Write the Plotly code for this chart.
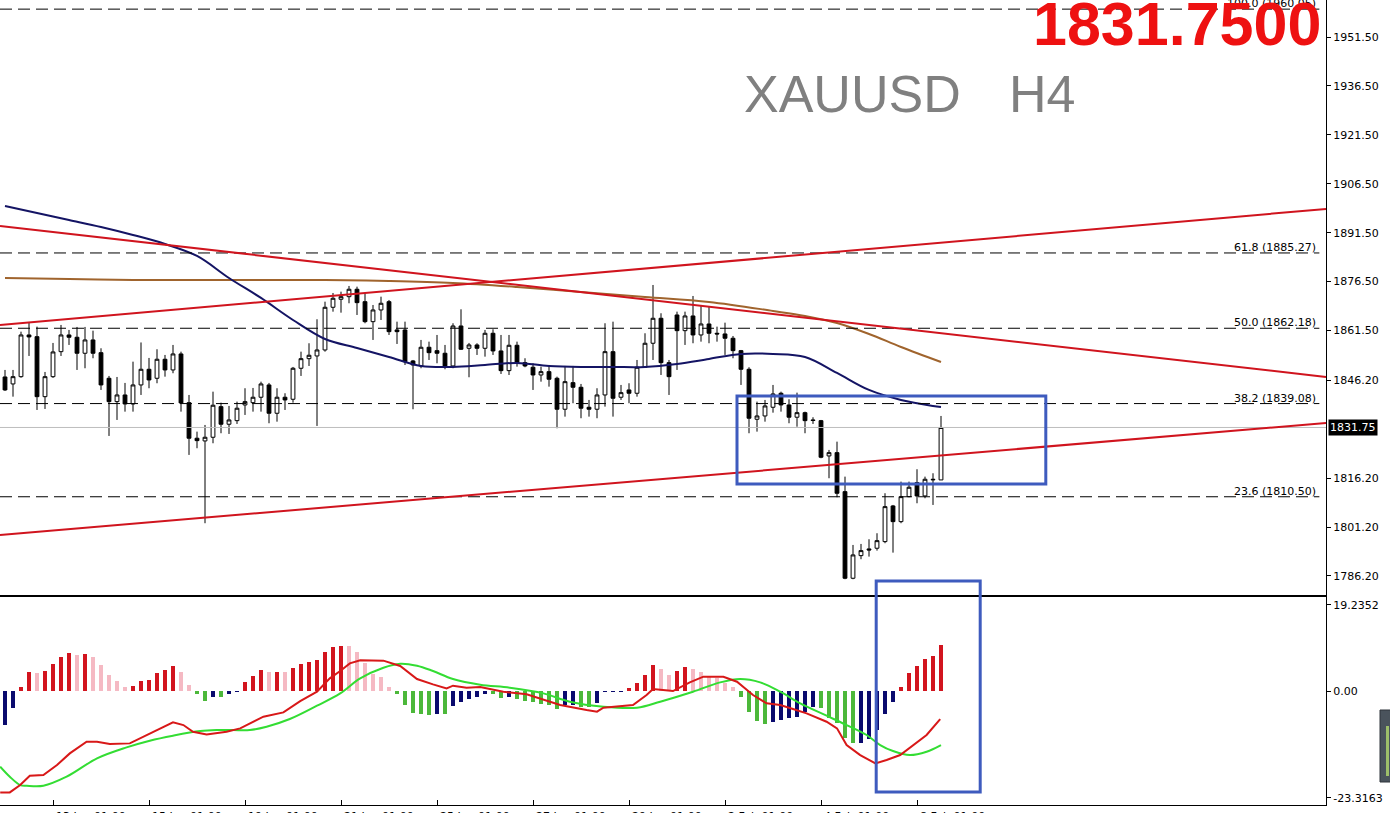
import plotly.graph_objects as go

# ---------------- DATA ----------------
bar_index = list(range(118))
opens = [1847.24,1845.10,1847.33,1860.12,1859.60,1841.20,1847.33,1855.00,1860.12,1859.42,
         1854.51,1858.59,1854.69,1846.84,1839.67,1841.72,1838.96,1844.79,1849.60,1846.84,
         1852.67,1849.39,1854.30,1839.36,1828.45,1827.62,1828.75,1838.14,1832.74,1833.84,
         1838.66,1839.36,1841.02,1844.79,1836.11,1841.02,1840.40,1849.91,1852.85,1853.68,
         1855.52,1868.61,1871.07,1871.86,1874.14,1870.33,1864.20,1867.79,1870.33,1861.66,
         1861.66,1852.15,1850.62,1856.35,1855.31,1854.51,1850.62,1862.88,1856.04,1857.06,
         1856.04,1860.64,1855.22,1849.18,1856.96,1851.63,1850.22,1847.85,1848.87,1846.84,
         1837.34,1845.50,1844.08,1837.95,1837.34,1841.72,1855.00,1841.02,1843.26,1842.24,
         1850.22,1857.58,1865.24,1851.63,1866.25,1861.44,1865.95,1860.12,1863.49,1860.64,
         1860.43,1859.11,1855.31,1849.60,1834.27,1835.28,1837.95,1842.24,1838.66,1834.89,
         1836.29,1834.06,1833.84,1823.02,1824.03,1812.07,1785.51,1792.44,1794.50,1794.71,
         1796.74,1807.68,1802.87,1810.54,1814.83,1810.75,1815.87,1815.66]
highs = [1849.39,1849.39,1861.13,1863.80,1862.67,1848.78,1857.67,1863.19,1861.66,1862.58,
         1862.58,1861.44,1856.04,1847.55,1847.24,1845.41,1851.93,1857.82,1853.07,1855.74,
         1853.99,1857.06,1855.00,1841.72,1830.47,1832.52,1842.73,1839.36,1838.35,1839.67,
         1843.78,1843.87,1845.80,1845.41,1843.78,1842.24,1850.31,1855.00,1857.58,1864.94,
         1870.33,1873.00,1873.40,1875.15,1874.93,1873.00,1869.32,1871.86,1870.85,1864.20,
         1864.20,1852.45,1858.59,1858.07,1860.12,1857.06,1863.71,1867.99,1857.67,1857.58,
         1861.66,1861.87,1860.12,1860.12,1858.07,1852.98,1851.44,1850.40,1850.92,1847.33,
         1850.62,1850.62,1845.10,1840.19,1843.78,1863.71,1864.20,1844.79,1845.31,1852.45,
         1860.64,1875.45,1866.78,1852.45,1867.27,1867.27,1872.08,1869.32,1868.80,1862.67,
         1863.89,1859.81,1855.52,1850.22,1839.67,1840.19,1844.79,1842.73,1840.40,1842.43,
         1836.60,1834.88,1834.06,1824.86,1827.40,1816.67,1795.72,1796.03,1797.47,1799.31,
         1811.58,1807.99,1815.14,1815.14,1818.94,1816.67,1817.71,1835.28]
lows = [1842.95,1841.20,1847.00,1853.68,1837.12,1837.43,1846.94,1853.68,1857.06,1849.39,
        1849.91,1852.98,1843.26,1829.15,1834.06,1836.60,1836.60,1841.72,1843.78,1845.31,
        1847.33,1848.38,1836.60,1823.33,1825.38,1802.38,1826.91,1829.98,1829.76,1832.83,
        1835.59,1836.60,1836.60,1833.04,1833.53,1837.12,1839.36,1847.55,1850.61,1832.22,
        1855.00,1867.26,1866.96,1869.84,1866.25,1863.71,1858.59,1864.72,1860.12,1857.36,
        1850.92,1837.34,1849.91,1852.45,1851.44,1849.60,1849.91,1855.52,1847.15,1853.99,
        1853.47,1853.99,1848.16,1847.85,1850.40,1850.22,1843.26,1845.80,1844.27,1831.51,
        1835.07,1839.18,1834.58,1835.07,1834.58,1838.14,1835.07,1840.19,1839.18,1841.20,
        1850.00,1852.45,1847.85,1841.72,1849.39,1857.06,1857.58,1858.07,1857.58,1858.07,
        1853.99,1852.98,1844.79,1829.98,1830.47,1833.53,1836.29,1836.60,1833.04,1831.99,
        1829.98,1832.83,1822.31,1816.18,1810.35,1785.21,1785.21,1791.34,1792.14,1793.98,
        1796.25,1793.36,1802.38,1810.35,1808.51,1810.04,1807.99,1815.66]
closes = [1843.26,1847.33,1860.12,1859.51,1841.20,1847.33,1854.91,1860.12,1859.42,1854.51,
          1858.59,1854.51,1844.79,1839.67,1841.72,1838.96,1844.79,1849.60,1846.32,1852.67,
          1849.39,1854.30,1839.27,1828.45,1827.71,1828.75,1838.57,1832.74,1834.06,1837.65,
          1839.67,1841.02,1845.10,1836.11,1841.02,1840.19,1849.91,1852.85,1853.90,1855.52,
          1868.61,1871.37,1871.86,1874.14,1870.03,1864.20,1867.79,1869.84,1861.13,1861.13,
          1851.93,1850.92,1856.35,1854.69,1854.51,1850.62,1862.88,1855.74,1857.06,1856.04,
          1860.64,1855.22,1849.18,1856.96,1851.63,1850.62,1847.85,1848.87,1846.54,1837.34,
          1845.80,1844.08,1837.65,1837.34,1841.72,1855.00,1840.71,1842.43,1842.24,1850.22,
          1857.58,1865.24,1851.63,1847.33,1861.44,1865.95,1860.12,1863.49,1860.64,1860.43,
          1859.11,1855.31,1849.60,1834.58,1835.28,1838.35,1842.03,1838.66,1834.89,1836.29,
          1833.84,1833.90,1822.62,1824.03,1811.57,1785.51,1792.66,1793.98,1794.19,1797.04,
          1807.47,1802.87,1810.54,1813.42,1810.75,1815.87,1815.72,1831.75]

ma_fast_index = [0,4,8,12,16,20,24,28,32,36,40,44,48,52,56,60,64,68,72,76,80,84,88,92,96,100,104,108,112,116,117]
ma_fast = [1899.68,1897.53,1895.39,1893.24,1890.79,1888.03,1884.35,1877.60,1871.47,1864.72,
           1858.89,1856.14,1853.37,1850.62,1850.31,1850.92,1851.54,1850.62,1850.31,1850.31,
           1850.31,1851.23,1852.76,1854.30,1854.30,1853.37,1848.47,1843.26,1840.19,1838.35,1838.04]
ma_slow_index = [0,8,16,24,32,40,48,56,64,72,80,88,96,100,104,108,112,117]
ma_slow = [1877.60,1877.30,1876.99,1876.99,1876.99,1876.99,1876.68,1876.07,1874.84,1873.31,
           1871.77,1870.24,1867.48,1865.95,1863.80,1860.43,1856.44,1851.84]

macd_hist = [-6.96,-3.55,0.75,3.82,3.70,4.09,5.53,6.96,7.71,7.37,
             7.57,7.03,5.32,3.27,2.05,0.75,1.02,2.05,2.25,3.75,
             4.30,5.18,3.82,1.23,-0.61,-2.05,-1.16,-1.30,-0.68,-0.10,
             1.77,3.14,4.30,3.82,3.90,3.80,4.77,5.53,6.00,6.34,
             7.91,9.07,9.28,9.20,8.05,5.66,3.41,2.93,0.89,-0.68,
             -2.87,-4.57,-4.77,-4.82,-4.75,-4.80,-3.00,-2.32,-1.70,-1.20,
             -0.68,-0.70,-1.50,-1.16,-1.64,-2.05,-2.32,-2.73,-2.87,-3.68,
             -2.87,-2.85,-3.20,-3.25,-2.52,-0.15,-0.10,-0.05,0.55,1.57,
             3.27,5.32,4.50,3.27,4.09,4.98,4.50,3.82,2.93,2.59,
             1.57,0.89,-1.16,-4.37,-6.14,-6.82,-6.28,-5.93,-5.59,-5.25,
             -4.37,-3.20,-3.55,-5.59,-6.62,-9.69,-10.71,-10.60,-9.82,-7.98,
             -4.77,-2.32,0.89,3.62,5.18,6.55,7.23,9.41]

macd_main_index = [-0.6,0.6,1.9,3.1,4.8,6.5,8.1,10.2,11.5,13.1,15.6,18.1,20.2,21.0,22.3,23.5,25.2,27.7,
                   29.4,31.0,32.3,34.8,36.9,39.0,40.6,41.9,43.1,44.4,47.3,49.4,51.5,53.5,55.2,56.0,57.7,
                   59.4,62.3,65.2,69.4,72.7,74.0,74.8,76.1,78.5,80.2,81.0,83.5,85.6,87.3,89.8,91.5,93.5,
                   95.2,96.9,98.5,100.2,102.7,104.0,105.2,106.9,108.8,110.2,111.9,113.5,115.2,116.9]
macd_main = [-20.74,-20.74,-19.24,-17.33,-17.19,-15.14,-12.76,-10.37,-10.37,-10.85,-10.71,-8.66,-6.96,-6.41,
             -6.96,-8.32,-8.87,-8.32,-7.64,-6.41,-5.25,-4.37,-2.05,-0.14,2.59,4.09,5.66,6.28,6.21,5.12,
             2.46,1.36,0.55,1.09,0.68,0.80,-0.14,-0.68,-2.87,-3.89,-4.23,-3.41,-3.21,-2.87,-0.82,0.41,
             0.0,1.77,2.93,2.93,1.91,-0.82,-2.52,-2.87,-3.68,-4.57,-6.28,-7.64,-11.05,-13.10,-14.80,
             -14.12,-13.10,-11.05,-9.00,-5.73]
macd_signal_index = [-0.6,0.6,1.9,2.7,4.8,7.7,11.5,15.2,18.1,21.0,24.4,26.5,28.5,30.6,32.7,35.6,39.0,41.9,
                     44.4,47.3,49.4,51.5,53.5,56.0,59.4,63.1,67.3,70.6,74.8,79.0,81.9,86.0,89.4,91.9,94.4,
                     96.9,99.4,102.7,105.2,107.7,109.4,111.0,113.1,115.2,117.0]
macd_signal = [-15.48,-17.53,-19.24,-19.37,-19.37,-17.53,-13.78,-11.53,-10.16,-9.14,-8.19,-7.98,-7.98,-7.98,
               -7.30,-5.73,-3.00,-0.48,2.59,4.77,5.59,5.18,4.09,2.46,1.30,0.68,-0.48,-2.18,-3.21,-3.41,
               -2.18,-0.14,1.77,2.46,1.77,-0.14,-2.52,-5.05,-6.96,-9.00,-11.05,-12.28,-13.10,-12.41,-11.05]

fib_ratios = ["100.0", "61.8", "50.0", "38.2", "23.6"]
fib_prices = [1960.05, 1885.27, 1862.18, 1839.08, 1810.50]
last_price = 1831.75

# trend lines: price at left edge and right edge of chart
trend_left = [1863.19, 1893.55, 1798.79]
trend_right = [1898.76, 1847.24, 1833.14]

# highlight boxes (bar index / price)
box_bars = [91.5, 130.1]
box_prices = [1814.43, 1841.42]
box2_bars = [108.9, 121.9]

date_tick_index = [-6, 6, 18, 30, 42, 54, 66, 78, 90, 102, 114]
date_tick_text = ["11 Jan 01:00", "13 Jan 01:00", "15 Jan 01:00", "19 Jan 01:00", "21 Jan 01:00",
                  "25 Jan 01:00", "27 Jan 01:00", "29 Jan 01:00", "2 Feb 01:00", "4 Feb 01:00", "8 Feb 01:00"]
price_ticks = [1951.50, 1936.50, 1921.50, 1906.50, 1891.50, 1876.50, 1861.50, 1846.20, 1816.20, 1801.20, 1786.20]

# ---------------- STYLE ----------------
W, H = 1390, 813
ML, MR, MT, MB = 0, 64, 0, 8
PW = W - ML - MR
PH = H - MT - MB
main_bottom_px = 595
macd_top_px = 597
X_RANGE = [-0.625, 165.125]
Y_RANGE = [1780.37, 1962.85]
M_RANGE = [-23.3163, 19.2352]
AXFONT = dict(family="DejaVu Sans", size=11, color="#000000")
RED_HIST, PINK_HIST, GREEN_HIST, NAVY_HIST = "#D2141E", "#F5B9C3", "#4CB83A", "#0A0A6E"

hist_colors = []
for k, v in enumerate(macd_hist):
    prev = macd_hist[k - 1] if k > 0 else v - 1
    if v >= 0:
        hist_colors.append(RED_HIST if v >= prev else PINK_HIST)
    else:
        hist_colors.append(NAVY_HIST if v >= prev else GREEN_HIST)

fig = go.Figure()

fig.add_trace(go.Scatter(x=ma_slow_index, y=ma_slow, mode="lines", line=dict(color="#A0642D", width=2, shape="spline"),
                         xaxis="x", yaxis="y", hoverinfo="skip"))
fig.add_trace(go.Scatter(x=ma_fast_index, y=ma_fast, mode="lines", line=dict(color="#141464", width=2, shape="spline"),
                         xaxis="x", yaxis="y", hoverinfo="skip"))
fig.add_trace(go.Candlestick(x=bar_index, open=opens, high=highs, low=lows, close=closes,
                             increasing=dict(line=dict(color="#000000", width=1), fillcolor="#FFFFFF"),
                             decreasing=dict(line=dict(color="#000000", width=1), fillcolor="#000000"),
                             whiskerwidth=0, xaxis="x", yaxis="y", hoverinfo="skip"))

fig.add_trace(go.Bar(x=bar_index, y=macd_hist, marker=dict(color=hist_colors, line=dict(width=0)), width=0.4,
                     xaxis="x2", yaxis="y2", hoverinfo="skip"))
fig.add_trace(go.Scatter(x=macd_signal_index, y=macd_signal, mode="lines",
                         line=dict(color="#33DD33", width=2, shape="spline"), xaxis="x2", yaxis="y2", hoverinfo="skip"))
fig.add_trace(go.Scatter(x=macd_main_index, y=macd_main, mode="lines",
                         line=dict(color="#D81818", width=2), xaxis="x2", yaxis="y2", hoverinfo="skip"))

shapes = []
for p in fib_prices:
    shapes.append(dict(type="line", xref="paper", yref="y", x0=0, x1=0.995, y0=p, y1=p,
                       line=dict(color="#000000", width=1, dash="12px,6px")))
shapes.append(dict(type="line", xref="paper", yref="y", x0=0, x1=1, y0=last_price, y1=last_price,
                   line=dict(color="#BEBEBE", width=1)))
for a, b in zip(trend_left, trend_right):
    shapes.append(dict(type="line", xref="paper", yref="y", x0=0, x1=1, y0=a, y1=b,
                       line=dict(color="#D0141E", width=2)))
shapes.append(dict(type="rect", xref="x", yref="y", x0=box_bars[0], x1=box_bars[1],
                   y0=box_prices[0], y1=box_prices[1], line=dict(color="#3E5BBE", width=3)))
shapes.append(dict(type="rect", xref="x", yref="paper", x0=box2_bars[0], x1=box2_bars[1],
                   y0=1 - 792 / PH, y1=1 - 581 / PH, line=dict(color="#3E5BBE", width=3)))
# small terminal widget at right edge
shapes.append(dict(type="rect", xref="paper", yref="paper", x0=1380 / PW, x1=1394 / PW,
                   y0=1 - 782 / PH, y1=1 - 710 / PH, fillcolor="#4A535C", line=dict(color="#2E343A", width=1)))
shapes.append(dict(type="rect", xref="paper", yref="paper", x0=1386 / PW, x1=1389 / PW,
                   y0=1 - 776 / PH, y1=1 - 726 / PH, fillcolor="#9DBE6A", line=dict(width=0)))

annotations = []
for r, p in zip(fib_ratios, fib_prices):
    annotations.append(dict(xref="paper", yref="y", x=1318 / PW, y=p, xanchor="right", yanchor="bottom",
                            text=f"{r} ({p:.2f})", showarrow=False, font=AXFONT, yshift=-3))
annotations.append(dict(xref="paper", yref="y", x=1328 / PW, y=last_price, xanchor="left", yanchor="middle",
                        text=f"{last_price:.2f}", showarrow=False, bgcolor="#000000",
                        font=dict(family="DejaVu Sans", size=11, color="#FFFFFF"), borderpad=1))
annotations.append(dict(xref="paper", yref="paper", x=1323 / PW, y=1 - 24 / PH, xanchor="right", yanchor="middle",
                        text=f"<b>{last_price:.4f}</b>", showarrow=False,
                        font=dict(family="Liberation Sans", size=61, color="#EE1111")))
annotations.append(dict(xref="paper", yref="paper", x=742 / PW, y=1 - 94 / PH, xanchor="left", yanchor="middle",
                        text="XAUUSD", showarrow=False, font=dict(family="Liberation Sans", size=52, color="#808080")))
annotations.append(dict(xref="paper", yref="paper", x=1007 / PW, y=1 - 94 / PH, xanchor="left", yanchor="middle",
                        text="H4", showarrow=False, font=dict(family="Liberation Sans", size=52, color="#808080")))
for i, t in zip(date_tick_index, date_tick_text):
    annotations.append(dict(xref="x2", yref="paper", x=i, y=0, xanchor="left", yanchor="top", yshift=-3, xshift=1,
                            text=t, showarrow=False, font=AXFONT))

fig.update_layout(
    width=W, height=H, margin=dict(l=ML, r=MR, t=MT, b=MB),
    paper_bgcolor="#FFFFFF", plot_bgcolor="#FFFFFF", showlegend=False,
    boxgap=0.32, bargap=0,
    xaxis=dict(domain=[0, 1], range=X_RANGE, anchor="y", showline=True, linecolor="#000000", linewidth=1,
               showgrid=False, zeroline=False, showticklabels=False, ticks="", rangeslider=dict(visible=False),
               fixedrange=True),
    yaxis=dict(domain=[1 - main_bottom_px / PH, 1], range=Y_RANGE, side="right", anchor="x",
               showline=True, linecolor="#000000", linewidth=1, showgrid=False, zeroline=False,
               ticks="outside", ticklen=4, tickcolor="#000000", tickvals=price_ticks,
               ticktext=[f"{v:.2f}" for v in price_ticks], tickfont=AXFONT),
    xaxis2=dict(domain=[0, 1], range=X_RANGE, anchor="y2", showline=True, mirror=True, linecolor="#000000",
                linewidth=1, showgrid=False, zeroline=False, showticklabels=False, ticks="inside", ticklen=5,
                tickcolor="#000000", tickvals=date_tick_index),
    yaxis2=dict(domain=[0, 1 - macd_top_px / PH], range=M_RANGE, side="right", anchor="x2",
                showline=True, linecolor="#000000", linewidth=1, showgrid=False, zeroline=False,
                ticks="outside", ticklen=4, tickcolor="#000000",
                tickvals=[M_RANGE[1] - 1.6, 0, M_RANGE[0] + 1.5],
                ticktext=[f"{M_RANGE[1]:.4f}", "0.00", f"{M_RANGE[0]:.4f}"], tickfont=AXFONT),
    shapes=shapes, annotations=annotations,
)

fig.write_html("out.html", config={"displayModeBar": False},
               post_script="document.body.style.margin='0';document.body.style.overflow='hidden';")
